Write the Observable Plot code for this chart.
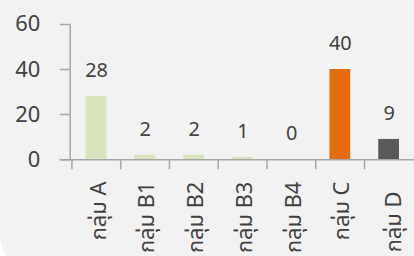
<!DOCTYPE html>
<html>
<head>
<meta charset="utf-8">
<script src="https://cdn.jsdelivr.net/npm/d3@7"></script>
<script src="https://cdn.jsdelivr.net/npm/@observablehq/plot@0.6"></script>
<style>
  html, body { margin: 0; padding: 0; background: #ffffff; overflow: hidden; }
  #wrap { width: 414px; height: 268px; background: #f2f2f2; border-bottom-left-radius: 32px; overflow: hidden; position: relative; }
  #chart svg { display: block; }
</style>
</head>
<body>
<div id="wrap"><div id="chart"></div></div>
<script>
const categories = ["กลุ่ม A", "กลุ่ม B1", "กลุ่ม B2", "กลุ่ม B3", "กลุ่ม B4", "กลุ่ม C", "กลุ่ม D"];
const values = [28, 2, 2, 1, 0, 40, 9];
const colors = ["#d7e4bd", "#d7e4bd", "#d7e4bd", "#d7e4bd", "#d7e4bd", "#e46c0a", "#595959"];
const yTicks = [0, 20, 40, 60];

const data = categories.map((c, i) => ({cat: c, value: values[i], color: colors[i]}));

const W = 416, H = 256, mL = 70, mR = 0, mT = 24, mB = 96;
const bw = (W - mL - mR) / categories.length;
const barInset = bw * 0.285;
const lastCat = categories[categories.length - 1];

const chart = Plot.plot({
  width: W,
  height: H,
  marginLeft: mL,
  marginRight: mR,
  marginTop: mT,
  marginBottom: mB,
  style: {background: "transparent", fontFamily: "'Noto Sans Thai', 'Noto Sans', sans-serif", color: "#404040", overflow: "visible"},
  x: {domain: categories, padding: 0, label: null},
  y: {domain: [0, 60], label: null},
  marks: [
    Plot.barY(data, {x: "cat", y: "value", fill: "color", insetLeft: barInset, insetRight: barInset}),
    Plot.ruleY([0], {stroke: "#a6a6a6", strokeWidth: 1.5, insetLeft: -10}),
    Plot.frame({anchor: "left", stroke: "#a6a6a6", strokeWidth: 1.5}),
    Plot.ruleX(categories, {x: d => d, dx: -bw / 2, y1: 0, y2: 0, insetBottom: -10, stroke: "#a6a6a6", strokeWidth: 1.5}),
    Plot.axisY({ticks: yTicks, tickSize: 10, tickPadding: 20, stroke: "#a6a6a6", strokeWidth: 1.5, fill: "#404040", fontSize: 22, tickFormat: d => String(d)}),
    Plot.axisX({ticks: categories.slice(0, -1), tickSize: 0, tickPadding: 22, tickRotate: -90, fontSize: 22, fill: "#404040", dx: 2}),
    Plot.axisX({ticks: [lastCat], tickSize: 0, tickPadding: 32, tickRotate: -90, fontSize: 22, fill: "#404040", dx: 5}),
    Plot.text(data, {x: "cat", y: "value", text: d => String(d.value), dy: -26, fontSize: 20, fill: "#404040"})
  ]
});
document.getElementById("chart").appendChild(chart);
</script>
</body>
</html>
